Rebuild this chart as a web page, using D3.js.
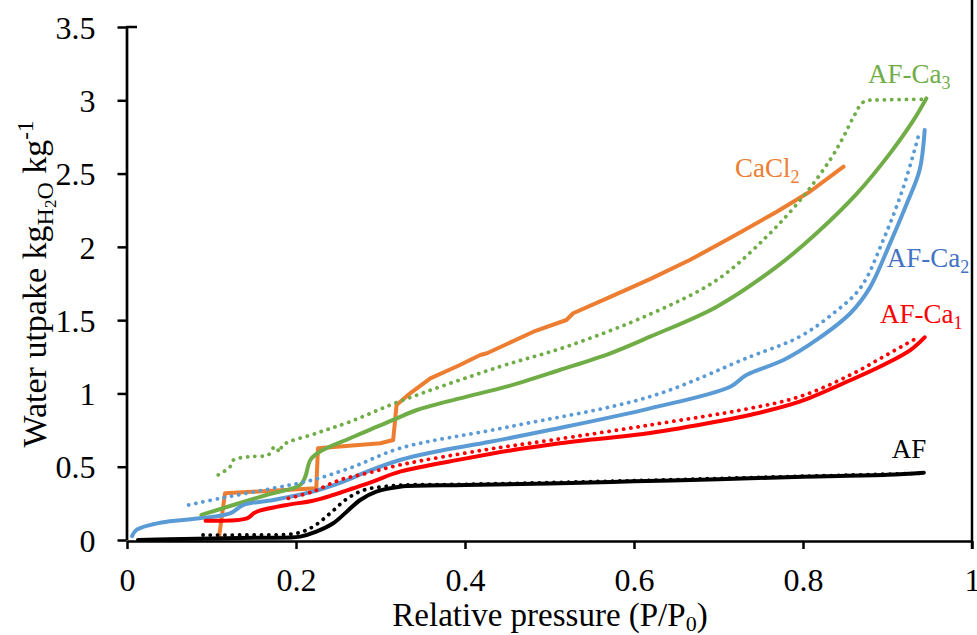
<!DOCTYPE html>
<html>
<head>
<meta charset="utf-8">
<script src="https://cdn.jsdelivr.net/npm/d3@7"></script>
<style>
  body { margin: 0; background: #fff; }
  text { font-family: "Liberation Serif", "Times New Roman", serif; }
</style>
</head>
<body>
<script>
// isotherm data, [P/P0, uptake]
var afSolid = [[0.013,0],[0.05,0.005],[0.1,0.01],[0.15,0.015],[0.205,0.023],[0.224,0.057],[0.244,0.114],[0.26,0.193],
  [0.276,0.273],[0.295,0.33],[0.323,0.364],[0.4,0.375],[0.5,0.385],[0.6,0.40],[0.7,0.415],[0.8,0.432],[0.9,0.445],[0.943,0.459]];
var afDotted = [[0.09,0.034],[0.15,0.035],[0.2,0.045],[0.22,0.09],[0.24,0.18],[0.26,0.28],[0.28,0.34],[0.303,0.364],
  [0.33,0.375],[0.4,0.38],[0.6,0.405],[0.8,0.435],[0.94,0.455]];

var ca1Solid = [[0.093,0.132],[0.142,0.148],[0.15,0.182],[0.157,0.2],[0.189,0.239],[0.22,0.268],[0.244,0.307],[0.268,0.353],
  [0.291,0.398],[0.323,0.466],[0.4,0.555],[0.457,0.614],[0.5,0.65],[0.55,0.685],[0.619,0.73],[0.7,0.81],[0.737,0.853],
  [0.796,0.944],[0.856,1.09],[0.895,1.194],[0.927,1.296],[0.944,1.383]];
var ca1Dotted = [[0.191,0.284],[0.22,0.33],[0.252,0.41],[0.284,0.455],[0.323,0.512],[0.422,0.614],[0.5,0.68],[0.619,0.785],
  [0.737,0.898],[0.796,0.978],[0.856,1.126],[0.895,1.25],[0.934,1.376]];

var ca2Solid = [[0.006,0.027],[0.011,0.068],[0.027,0.102],[0.047,0.125],[0.086,0.148],[0.122,0.182],[0.138,0.239],[0.173,0.273],
  [0.22,0.33],[0.256,0.398],[0.284,0.466],[0.323,0.546],[0.363,0.6],[0.43,0.67],[0.5,0.75],[0.619,0.898],[0.714,1.046],
  [0.733,1.126],[0.777,1.228],[0.816,1.365],[0.856,1.547],[0.879,1.72],[0.903,2.024],[0.923,2.297],[0.938,2.524],[0.944,2.797]];
var ca2Dotted = [[0.073,0.239],[0.11,0.284],[0.173,0.353],[0.22,0.41],[0.268,0.5],[0.323,0.626],[0.45,0.77],[0.619,0.978],
  [0.737,1.25],[0.796,1.387],[0.836,1.547],[0.868,1.72],[0.895,2.047],[0.919,2.41],[0.938,2.786]];

var ca3Solid = [[0.088,0.171],[0.126,0.239],[0.165,0.307],[0.205,0.375],[0.211,0.432],[0.217,0.546],[0.228,0.602],[0.264,0.694],
  [0.291,0.762],[0.315,0.819],[0.343,0.887],[0.402,0.978],[0.449,1.046],[0.512,1.16],[0.572,1.274],[0.619,1.387],[0.698,1.592],
  [0.769,1.865],[0.816,2.093],[0.864,2.365],[0.903,2.638],[0.931,2.866],[0.946,3.013]];
var ca3Dotted = [[0.108,0.444],[0.122,0.5],[0.126,0.546],[0.146,0.569],[0.167,0.58],[0.175,0.637],[0.181,0.6],[0.184,0.645],
  [0.224,0.728],[0.264,0.807],[0.32,0.94],[0.441,1.182],[0.52,1.319],[0.619,1.541],[0.698,1.774],[0.757,2.07],[0.8,2.342],
  [0.832,2.593],[0.848,2.752],[0.86,2.888],[0.872,2.99],[0.895,3.002],[0.943,3.007]];

var cacl2 = [[0.108,0.01],[0.109,0.023],[0.116,0.319],[0.224,0.353],[0.226,0.626],[0.3,0.66],[0.315,0.682],[0.319,0.921],
  [0.335,1.001],[0.359,1.103],[0.394,1.194],[0.418,1.262],[0.426,1.274],[0.481,1.421],[0.52,1.501],[0.528,1.547],[0.568,1.649],
  [0.619,1.78],[0.666,1.91],[0.717,2.07],[0.769,2.24],[0.808,2.376],[0.848,2.547]];

var xTicks = [0, 0.2, 0.4, 0.6, 0.8, 1];
var yTicks = [0, 0.5, 1, 1.5, 2, 2.5, 3, 3.5];

// the step-like CaCl2 curve stays straight, the others are smoothed
var series = [
  { data: cacl2, color: "#ED7D31", dotted: false, smooth: false },
  { data: ca3Dotted, color: "#70AD47", dotted: true, smooth: true },
  { data: ca3Solid, color: "#70AD47", dotted: false, smooth: true },
  { data: ca2Dotted, color: "#5B9BD5", dotted: true, smooth: true },
  { data: ca2Solid, color: "#5B9BD5", dotted: false, smooth: true },
  { data: ca1Dotted, color: "#FF0000", dotted: true, smooth: true },
  { data: ca1Solid, color: "#FF0000", dotted: false, smooth: true },
  { data: afDotted, color: "#000000", dotted: true, smooth: true },
  { data: afSolid, color: "#000000", dotted: false, smooth: true }
];

// series names placed beside the curves (data units)
var labels = [
  { name: "AF-Ca", sub: "3", x: 0.877, y: 3.118, color: "#70AD47" },
  { name: "CaCl", sub: "2", x: 0.7195, y: 2.477, color: "#ED7D31" },
  { name: "AF-Ca", sub: "2", x: 0.899, y: 1.863, color: "#4472C4" },
  { name: "AF-Ca", sub: "1", x: 0.891, y: 1.48, color: "#FF0000" },
  { name: "AF", sub: "", x: 0.905, y: 0.559, color: "#000000" }
];

var width = 977, height = 635;

var svg = d3.select("body").append("svg")
  .attr("width", width)
  .attr("height", height);

var x = d3.scaleLinear().domain([0, 1]).range([127, 972]);
var y = d3.scaleLinear().domain([0, 3.5]).range([540, 27]);

var smoothLine = d3.line()
  .x(function (d) { return x(d[0]); })
  .y(function (d) { return y(d[1]); })
  .curve(d3.curveCatmullRom.alpha(0.5));
var straightLine = d3.line()
  .x(function (d) { return x(d[0]); })
  .y(function (d) { return y(d[1]); })
  .curve(d3.curveLinear);

svg.append("g").selectAll("path")
  .data(series)
  .enter()
  .append("path")
  .attr("d", function (d) { return d.smooth ? smoothLine(d.data) : straightLine(d.data); })
  .attr("fill", "none")
  .attr("stroke", function (d) { return d.color; })
  .attr("stroke-width", function (d) { return d.dotted ? 3.8 : 4; })
  .attr("stroke-dasharray", function (d) { return d.dotted ? "0.1 7.2" : null; })
  .attr("stroke-linecap", "round")
  .attr("stroke-linejoin", "round");

// axes
var xAxis = svg.append("g")
  .attr("transform", "translate(0,541)")
  .call(d3.axisBottom(x).tickValues(xTicks).tickSize(8).tickSizeOuter(0)
    .tickFormat(function (d) { return d3.format("~g")(d); }));
xAxis.select(".domain").attr("stroke-width", 2.7);
xAxis.selectAll(".tick line").attr("stroke-width", 2.5);
xAxis.selectAll(".tick text")
  .attr("y", 50).attr("dy", null)
  .attr("font-size", "32px").attr("font-family", "Liberation Serif").attr("fill", "#000");

var yAxis = svg.append("g")
  .attr("transform", "translate(126.5,0)")
  .call(d3.axisLeft(y).tickValues(yTicks).tickSize(9).tickPadding(22).tickSizeOuter(0)
    .tickFormat(function (d) { return d3.format("~g")(d); }));
yAxis.select(".domain").attr("stroke-width", 2.7);
yAxis.selectAll(".tick line").attr("stroke-width", 2.5);
yAxis.selectAll(".tick text")
  .attr("dy", "0.35em")
  .attr("font-size", "32px").attr("font-family", "Liberation Serif").attr("fill", "#000");

// top cap and right frame line
svg.append("line")
  .attr("x1", 126).attr("x2", 137).attr("y1", y(3.5)).attr("y2", y(3.5))
  .attr("stroke", "#000").attr("stroke-width", 2.5);
svg.append("line")
  .attr("x1", 972).attr("x2", 972).attr("y1", 0).attr("y2", 549)
  .attr("stroke", "#000").attr("stroke-width", 2.5);

// axis titles
var xTitle = svg.append("text")
  .attr("x", 550).attr("y", 626)
  .attr("text-anchor", "middle")
  .attr("font-size", "33px");
xTitle.append("tspan").text("Relative pressure (P/P");
xTitle.append("tspan").attr("font-size", "22px").attr("dy", 5).text("0");
xTitle.append("tspan").attr("dy", -5).text(")");

var yTitle = svg.append("text")
  .attr("transform", "translate(46,284) rotate(-90)")
  .attr("text-anchor", "middle")
  .attr("font-size", "34px");
yTitle.append("tspan").text("Water utpake kg");
yTitle.append("tspan").attr("font-size", "24px").attr("dy", 7).text("H");
yTitle.append("tspan").attr("font-size", "17px").attr("dy", 3).text("2");
yTitle.append("tspan").attr("font-size", "24px").attr("dy", -3).text("O");
yTitle.append("tspan").attr("dy", -7).text(" kg");
yTitle.append("tspan").attr("font-size", "23px").attr("dy", -13).text("-1");

// curve labels
var lab = svg.append("g").selectAll("text")
  .data(labels)
  .enter()
  .append("text")
  .attr("x", function (d) { return x(d.x); })
  .attr("y", function (d) { return y(d.y); })
  .attr("font-size", "27px")
  .attr("fill", function (d) { return d.color; });
lab.append("tspan").text(function (d) { return d.name; });
lab.append("tspan")
  .attr("font-size", "18px")
  .attr("dy", 6)
  .text(function (d) { return d.sub; });
</script>
</body>
</html>
